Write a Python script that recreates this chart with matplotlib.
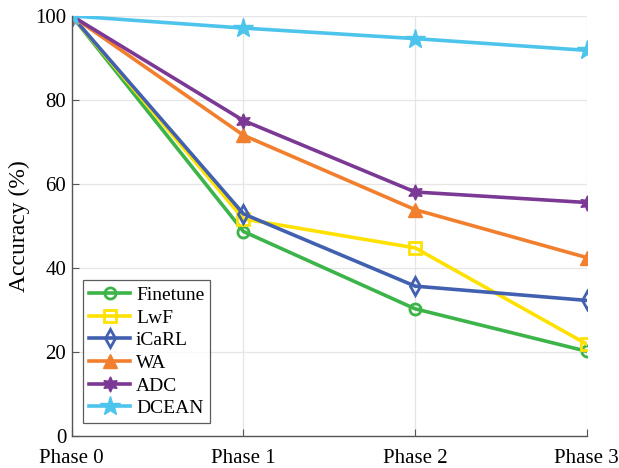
import matplotlib.pyplot as plt

plt.rcParams['font.family'] = ['Liberation Serif', 'DejaVu Serif']

phases = ["Phase 0", "Phase 1", "Phase 2", "Phase 3"]

finetune = [100, 48.7, 30.3, 20.2]
lwf = [100, 51.7, 44.8, 21.9]
icarl = [100, 52.9, 35.7, 32.3]
wa = [100, 71.6, 53.9, 42.5]
adc = [100, 75.1, 58.1, 55.6]
dcean = [100, 97.1, 94.6, 91.8]

fig = plt.figure(figsize=(6.19, 4.68), dpi=100)
ax = fig.add_axes([0.116, 0.068, 0.832, 0.898])

x = range(len(phases))
lw = 2.6
ax.plot(x, finetune, color='#3cb44a', lw=lw, marker='o', ms=8, mfc='none', mew=2, label='Finetune')
ax.plot(x, lwf, color='#ffe100', lw=lw, marker='s', ms=8, mfc='none', mew=2, label='LwF')
ax.plot(x, icarl, color='#4160b0', lw=lw, marker='d', ms=9, mfc='none', mew=2, label='iCaRL')
ax.plot(x, wa, color='#f27f2e', lw=lw, marker='^', ms=10, label='WA')
ax.plot(x, adc, color='#7b3894', lw=lw, marker=(6, 1, 0), ms=11, label='ADC')
ax.plot(x, dcean, color='#4dc4ec', lw=lw, marker='*', ms=15, label='DCEAN')

ax.set_xlim(0, 3)
ax.set_ylim(0, 100)
ax.set_xticks(list(x))
ax.set_xticklabels(phases)
ax.set_yticks([0, 20, 40, 60, 80, 100])
ax.set_ylabel('Accuracy (%)', fontsize=17, labelpad=4)
ax.tick_params(labelsize=15, direction='in', length=5, color='#555555')
ax.tick_params(axis='x', pad=9)
ax.tick_params(axis='y', pad=4)
ax.grid(True, color='#e6e6e6', lw=0.9)
ax.set_axisbelow(True)
for s in ['top', 'right']:
    ax.spines[s].set_visible(False)
for s in ['left', 'bottom']:
    ax.spines[s].set_color('#555555')
    ax.spines[s].set_linewidth(1.0)

leg = ax.legend(loc='lower left', bbox_to_anchor=(0.015, 0.022), fontsize=14, frameon=True,
                fancybox=False, edgecolor='#333333', handlelength=2.1, labelspacing=0.26,
                borderpad=0.3, handletextpad=0.3, borderaxespad=0.2)
leg.get_frame().set_linewidth(0.9)

for t in ax.get_xticklabels() + ax.get_yticklabels():
    t.set_clip_on(False)

fig.savefig('out.png', dpi=100)
